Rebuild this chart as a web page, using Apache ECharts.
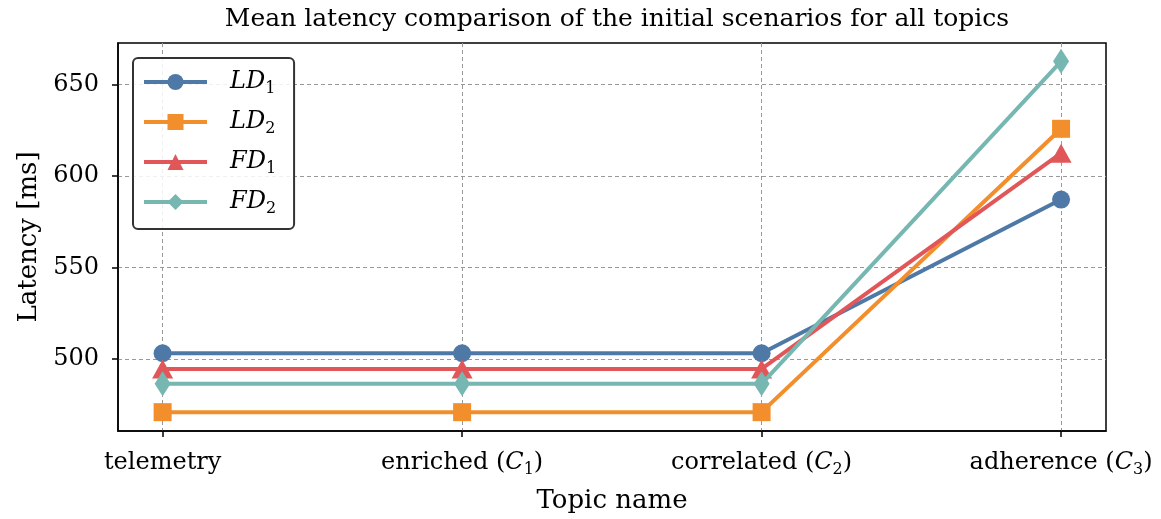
<!DOCTYPE html>
<html style="height: 100%">
<head>
<meta charset="utf-8">
<script type="text/javascript" src="https://cdn.jsdelivr.net/npm/echarts@6/dist/echarts.min.js"></script>
<script type="text/javascript">
// topics (x) and mean latency per scenario (ms)
var TOPICS = ['telemetry', 'enriched', 'correlated', 'adherence'];
var TOPIC_SUB = ['', '1', '2', '3'];
var LD1 = [503.1, 503.1, 503.1, 587.1];
var LD2 = [470.9, 470.9, 470.9, 625.8];
var FD1 = [494.5, 494.5, 494.5, 612.5];
var FD2 = [486.4, 486.4, 486.4, 662.7];
var Y_TICKS = [500, 550, 600, 650];
var SERIES_NAMES = ['LD1', 'LD2', 'FD1', 'FD2'];
</script>
</head>
<body style="height: 100%; margin: 0; background: #fff">
<div id="container" style="width: 1161px; height: 519px"></div>
<script type="text/javascript">
var FONT = '"DejaVu Serif", serif';
var COLORS = ['#4e79a7', '#f28e2b', '#e15759', '#76b7b2'];
var SYMBOLS = ['circle', 'rect', 'triangle', 'diamond'];
var SIZES = [18, 18, [21, 19], [16, 25]];

function pairs(arr) {
    var out = [];
    for (var i = 0; i < arr.length; i++) out.push([i, arr[i]]);
    return out;
}

var richText = {
    i: {fontFamily: FONT, fontStyle: 'italic', fontSize: 24, color: '#000', lineHeight: 30, verticalAlign: 'middle'},
    s: {fontFamily: FONT, fontSize: 16, color: '#000', lineHeight: 16, verticalAlign: 'bottom'},
    n: {fontFamily: FONT, fontSize: 24, color: '#000', lineHeight: 30, verticalAlign: 'middle'}
};

var allData = [LD1, LD2, FD1, FD2];
var series = [];
for (var k = 0; k < 4; k++) {
    series.push({
        name: SERIES_NAMES[k],
        type: 'line',
        data: pairs(allData[k]),
        symbol: SYMBOLS[k],
        symbolSize: SIZES[k],
        showAllSymbol: true,
        color: COLORS[k],
        lineStyle: {width: 4, color: COLORS[k]},
        itemStyle: {color: COLORS[k]},
        z: 3 + k
    });
}

var option = {
    animation: false,
    backgroundColor: '#fff',
    title: {
        text: 'Mean latency comparison of the initial scenarios for all topics',
        left: 612, top: 2, textAlign: 'center',
        textStyle: {fontFamily: FONT, fontWeight: 'normal', fontSize: 25, color: '#000'}
    },
    grid: {
        left: 118, right: 55, top: 43, bottom: 87,
        show: true, borderColor: '#000', borderWidth: 1.5, backgroundColor: 'transparent'
    },
    legend: {
        orient: 'vertical',
        left: 133, top: 58,
        padding: [12, 18, 12, 9],
        itemWidth: 63, itemHeight: 20,
        itemGap: 13,
        borderColor: '#333', borderWidth: 2, borderRadius: 5,
        backgroundColor: 'rgba(255,255,255,0.85)',
        lineStyle: {width: 4},
        data: SERIES_NAMES,
        formatter: function (name) {
            return '{i|' + name.slice(0, 2) + '}{s|' + name.slice(2) + '}';
        },
        textStyle: {rich: richText, padding: [0, 0, 0, 18]}
    },
    xAxis: {
        type: 'value',
        min: -0.149, max: 3.15,
        name: 'Topic name',
        nameLocation: 'middle',
        nameGap: 57,
        nameTextStyle: {fontFamily: FONT, fontSize: 26, color: '#000'},
        axisLine: {show: true, onZero: false, lineStyle: {color: '#000', width: 1.5}},
        axisTick: {show: true, length: 6, lineStyle: {color: '#000', width: 1.5}, customValues: [0, 1, 2, 3]},
        axisLabel: {
            customValues: [0, 1, 2, 3],
            margin: 17,
            formatter: function (v) {
                var i = Math.round(v);
                if (!TOPIC_SUB[i]) return '{n|' + TOPICS[i] + '}';
                return '{n|' + TOPICS[i] + ' (}{i|C}{s|' + TOPIC_SUB[i] + '}{n|)}';
            },
            rich: richText
        },
        splitLine: {show: true, lineStyle: {color: '#999', type: [4, 3], width: 1}}
    },
    yAxis: {
        type: 'value',
        min: 460.6, max: 672.7,
        name: 'Latency [ms]',
        nameLocation: 'middle',
        nameGap: 76,
        nameTextStyle: {fontFamily: FONT, fontSize: 26, color: '#000'},
        axisLine: {show: true, onZero: false, lineStyle: {color: '#000', width: 1.5}},
        axisTick: {show: true, length: 6, lineStyle: {color: '#000', width: 1.5}, customValues: Y_TICKS},
        axisLabel: {
            customValues: Y_TICKS,
            margin: 19,
            fontFamily: FONT, fontSize: 24, color: '#000'
        },
        splitLine: {show: true, lineStyle: {color: '#999', type: [4, 3], width: 1}}
    },
    series: series
};

var myChart = echarts.init(document.getElementById('container'));
myChart.setOption(option);
</script>
</body>
</html>
